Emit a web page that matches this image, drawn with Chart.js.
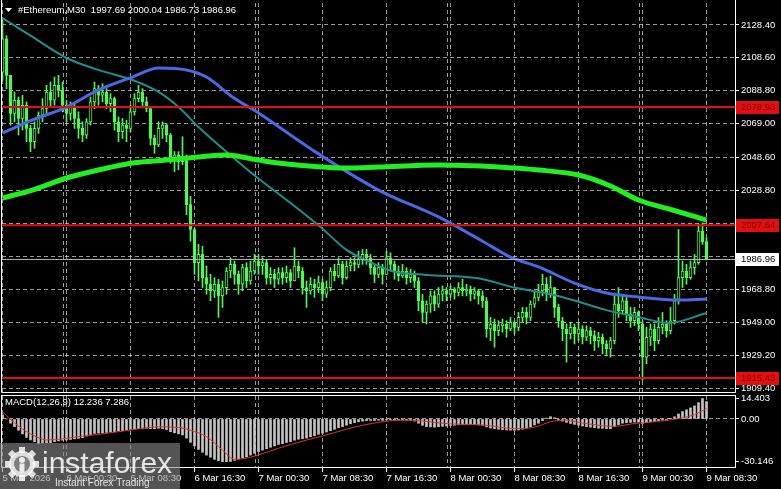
<!DOCTYPE html>
<html>
<head>
<meta charset="utf-8">
<script src="https://cdn.jsdelivr.net/npm/chart.js@4.4.1/dist/chart.umd.min.js"></script>
<style>
html, body { margin: 0; padding: 0; background: #000; overflow: hidden; }
#wrap { position: relative; width: 781px; height: 489px; background: #000; }
#main { position: absolute; left: 0; top: 0; }
#macd { position: absolute; left: 0; top: 392px; }
</style>
</head>
<body>
<div id="wrap">
  <canvas id="main" width="781" height="393"></canvas>
  <canvas id="macd" width="781" height="97"></canvas>
</div>
<script>
// ---- data ----
const symbol = '#Ethereum';
const timeframe = 'M30';
const firstOpen = 2100;

const closes = [
  2120, 2098, 2075, 2083, 2072, 2080, 2066, 2058, 2066, 2074,
  2078, 2088, 2083, 2092, 2089, 2080, 2075, 2079, 2072, 2066,
  2062, 2070, 2082, 2090, 2086, 2088, 2081, 2084, 2070, 2064,
  2068, 2066, 2076, 2084, 2088, 2082, 2078, 2060, 2056, 2066,
  2068, 2062, 2048, 2050, 2046, 2048, 2020, 2005, 1985, 1990,
  1976, 1972, 1968, 1972, 1965, 1970, 1980, 1984, 1978, 1972,
  1982, 1974, 1980, 1986, 1983, 1985, 1976, 1978, 1975, 1979,
  1976, 1979, 1974, 1983, 1980, 1970, 1968, 1972, 1970, 1973,
  1966, 1970, 1980, 1977, 1984, 1976, 1983, 1985, 1984, 1987,
  1990, 1988, 1982, 1978, 1982, 1978, 1988, 1984, 1980, 1977,
  1980, 1976, 1978, 1974, 1962, 1955, 1960, 1965, 1960, 1966,
  1968, 1966, 1969, 1967, 1970, 1968, 1969, 1966, 1968, 1965,
  1962, 1945, 1948, 1944, 1947, 1948, 1945, 1949, 1946, 1952,
  1955, 1952, 1960, 1964, 1968, 1972, 1966, 1970, 1958, 1950,
  1945, 1942, 1946, 1942, 1945, 1940, 1944, 1941, 1938, 1940,
  1936, 1933, 1938, 1960, 1956, 1962, 1954, 1950, 1955, 1948,
  1928, 1940, 1945, 1938, 1946, 1948, 1944, 1950, 1962, 1976,
  1980, 1976, 1982, 1985, 2004, 1997.69, 1986.96
];
const highs = [
  2131, 2122, 2093, 2088, 2085, 2086, 2082, 2068, 2070, 2076,
  2084, 2092, 2094, 2097, 2098, 2094, 2083, 2082, 2081, 2076,
  2070, 2072, 2085, 2094, 2092, 2093, 2090, 2087, 2085, 2073,
  2072, 2071, 2080, 2087, 2092, 2090, 2085, 2078, 2062, 2070,
  2070, 2069, 2063, 2052, 2052, 2061, 2050, 2025, 2006, 1996,
  1995, 1983, 1978, 1976, 1975, 1974, 1982, 1988, 1986, 1980,
  1984, 1985, 1986, 1990, 1990, 1988, 1987, 1982, 1981, 1982,
  1982, 1983, 1981, 1994, 1986, 1982, 1974, 1976, 1975, 1977,
  1975, 1974, 1982, 1984, 1988, 1986, 1986, 1988, 1988, 1992,
  1993, 1993, 1990, 1984, 1985, 1984, 1992, 1991, 1986, 1983,
  1984, 1982, 1981, 1980, 1976, 1966, 1962, 1968, 1968, 1970,
  1971, 1970, 1971, 1970, 1973, 1975, 1972, 1971, 1970, 1969,
  1968, 1964, 1952, 1951, 1950, 1951, 1950, 1952, 1950, 1955,
  1958, 1958, 1962, 1968, 1972, 1978, 1976, 1977, 1970, 1960,
  1952, 1948, 1949, 1948, 1949, 1947, 1947, 1946, 1944, 1943,
  1942, 1938, 1940, 1965, 1970, 1966, 1964, 1958, 1958, 1956,
  1950, 1946, 1948, 1948, 1952, 1955, 1950, 1958, 1966, 2005,
  1986, 1984, 1986, 1990, 2008, 2009, 2000.04
];
const lows = [
  2095, 2090, 2068, 2070, 2062, 2065, 2058, 2052, 2054, 2063,
  2070, 2075, 2079, 2080, 2085, 2076, 2070, 2071, 2066, 2060,
  2058, 2060, 2068, 2078, 2080, 2082, 2078, 2076, 2065, 2058,
  2060, 2058, 2064, 2074, 2082, 2079, 2076, 2056, 2051, 2055,
  2060, 2058, 2045, 2040, 2041, 2044, 2014, 1998, 1978, 1974,
  1970, 1966, 1962, 1964, 1952, 1958, 1966, 1976, 1972, 1966,
  1968, 1970, 1972, 1978, 1978, 1978, 1972, 1972, 1970, 1972,
  1972, 1973, 1970, 1974, 1976, 1966, 1958, 1966, 1964, 1967,
  1962, 1964, 1968, 1974, 1976, 1972, 1975, 1980, 1980, 1982,
  1984, 1984, 1978, 1973, 1976, 1972, 1978, 1980, 1975, 1974,
  1976, 1972, 1973, 1970, 1956, 1949, 1948, 1955, 1956, 1958,
  1962, 1962, 1964, 1963, 1965, 1965, 1965, 1962, 1963, 1960,
  1958, 1940, 1938, 1934, 1941, 1943, 1940, 1944, 1942, 1944,
  1949, 1948, 1950, 1958, 1962, 1965, 1962, 1964, 1952, 1946,
  1938, 1925, 1939, 1936, 1938, 1936, 1938, 1936, 1932, 1934,
  1930, 1929, 1928, 1936, 1952, 1954, 1950, 1946, 1947, 1944,
  1914, 1924, 1935, 1932, 1936, 1942, 1940, 1942, 1948, 1960,
  1970, 1972, 1975, 1978, 1984, 1996, 1986.73
];

// moving averages, read at points along each line: [bar index, price]
const maTeal = [[0,2132.6],[7.5,2121.2],[16,2108.5],[24,2101.3],[32.5,2095.2],[39,2088.0],[44,2078.9],[49,2066.9],[57.5,2048.8],[63.5,2036.7],[72,2021.0],[79.5,2006.5],[86,1992.7],[90,1987.5],[97.5,1979.8],[106,1977.6],[118.5,1975.7],[128.5,1969.7],[137,1966.0],[143,1962.2],[151,1956.4],[159,1952.2],[166.5,1948.6],[176,1954.6]];
const maBlue = [[0,2063.3],[7.5,2071.1],[16,2078.9],[24,2089.2],[32.5,2097.0],[39,2102.5],[46,2101.3],[51,2097.0],[57.5,2085.0],[64,2075.3],[77.5,2053.0],[94,2028.8],[109,2012.6],[119.5,1998.7],[127,1988.4],[134.5,1982.0],[143,1972.7],[151,1966.7],[159,1964.3],[169,1962.5],[176,1963.1]];
const maGreen = [[0,2024.0],[7.5,2028.8],[16,2036.1],[24,2040.9],[32.5,2045.1],[41,2046.9],[49,2048.8],[56,2050.0],[64,2046.9],[69,2045.1],[86,2042.1],[94,2042.7],[109,2043.9],[124,2042.7],[134,2040.9],[144,2037.9],[152,2031.3],[159,2022.8],[167.5,2016.8],[176,2010.7]];

const redLevels = [2078.93, 2007.64, 1915.43];
const lastPrice = 1986.96;
const priceTicks = [2128.40, 2108.60, 2088.80, 2069.00, 2048.60, 2028.80, 2008.90, 1989.00, 1968.80, 1949.00, 1929.20, 1909.40];
const hiddenPriceLabels = [2008.90, 1989.00];

const macdMain = [
  3, 0, -3, -5.4, -8, -10.5, -13, -14.8, -16, -17.2,
  -17, -16.8, -16.7, -16, -15.5, -15, -14.8, -14.5, -14, -13.7,
  -13.2, -12, -11, -10.2, -10, -9.8, -9.5, -9.2, -9, -8.5,
  -8.2, -7.8, -7.4, -7, -6.8, -6.6, -6.6, -6.8, -6.9, -6.6,
  -6.8, -7.5, -9, -9.8, -10.5, -11.3, -13.5, -16.5, -19, -21.5,
  -23.5, -25.5, -27, -28.5, -29.5, -30.1, -30.1, -30, -29.2, -28.3,
  -27.5, -26.8, -25.5, -24.2, -23, -22, -21, -20, -19, -18,
  -17.4, -16.6, -16, -15, -14.3, -14, -13.5, -12.5, -11.8, -10.8,
  -10, -9.2, -8.3, -7.3, -6.2, -5.4, -4.4, -3.4, -2.6, -2,
  -1.5, -1.2, -1.1, -1.1, -0.9, -1, -0.6, -0.5, -0.6, -0.7,
  -0.8, -1, -1.2, -1.5, -3, -4.5, -5.4, -5.6, -5.8, -5.5,
  -5.2, -5, -4.6, -4.4, -4.1, -4, -3.8, -3.9, -4, -4.2,
  -4.5, -5.6, -6.4, -6.8, -7.2, -7.5, -7.8, -7.9, -8, -7.8,
  -7.2, -6.5, -5.6, -4.2, -3, -1.2, 0.6, 1.6, 0.8, -0.7,
  -1.5, -2.4, -3.2, -3.8, -4.4, -5, -5.4, -5.8, -6.2, -6.5,
  -6.6, -6.8, -6.9, -5.5, -4, -3, -2.6, -2.4, -2.2, -2.3,
  -3.2, -2.6, -2, -1.8, -1.2, -0.8, -0.6, 0.2, 1.5, 3.5,
  5.2, 6.5, 7.8, 9.2, 11.5, 14.403, 12.236
];
const macdSignal = [[0,5],[4,-5],[8,-12],[11,-14.8],[15,-14],[19,-12.5],[25,-10.5],[29,-9],[34,-7],[39,-5.5],[44,-6],[47,-8],[51,-12.5],[55,-22],[58,-28.5],[62,-27],[66,-23.5],[72,-18],[80,-12],[90,-4.5],[100,-0.8],[105,-1.5],[112,-3.5],[120,-4.2],[128,-6.8],[133,-5.8],[137,-2],[140,-0.8],[145,-2.8],[150,-4.8],[153,-5.2],[158,-3.2],[162,-2.2],[166,-1],[170,0.8],[173,3],[176,7.286]];
const macdTicks = [14.403, 0, -30.146];

const timeTickIdx = [0, 16, 32, 48, 64, 80, 96, 112, 128, 144, 160, 176];
const timeLabels = ['5 Mar 2026', '6 Mar 00:30', '6 Mar 08:30', '6 Mar 16:30', '7 Mar 00:30', '7 Mar 08:30',
                    '7 Mar 16:30', '8 Mar 00:30', '8 Mar 08:30', '8 Mar 16:30', '9 Mar 00:30', '9 Mar 08:30'];
const daySeparatorIdx = [15, 63, 111, 159];

// ---- look ----
const FONT = '"Liberation Sans", Arial, sans-serif';
const candleGreen = '#5cf05c';
const gridColor = 'rgba(205,205,205,0.75)';
const X_MIN = -0.125, X_MAX = 183.125;

Chart.defaults.font.family = FONT;
Chart.defaults.font.size = 9.5;
Chart.defaults.color = '#fff';

const opens = closes.map((c, i) => i === 0 ? firstOpen : closes[i - 1]);
const wicks = closes.map((c, i) => ({ x: i, y: [Math.min(lows[i], opens[i], c), Math.max(highs[i], opens[i], c)] }));
const bodies = closes.map((c, i) => {
  let o = opens[i];
  if (Math.abs(o - c) < 0.4) return { x: i, y: [o - 0.25, c + 0.25] };
  return { x: i, y: [o, c] };
});
const bodyFill = closes.map((c, i) => c >= opens[i] ? '#000' : candleGreen);

const pts = arr => arr.map(p => ({ x: p[0], y: p[1] }));
const hline = v => [{ x: X_MIN, y: v }, { x: X_MAX, y: v }];

function fixAxis(w) {
  return function (s) {
    if (w !== undefined) s.width = w;
    s.paddingTop = 0; s.paddingBottom = 0; s.paddingLeft = 0; s.paddingRight = 0;
  };
}

function drawSeparators(chart) {
  const { ctx, chartArea, scales } = chart;
  ctx.save();
  ctx.strokeStyle = gridColor;
  ctx.lineWidth = 1;
  ctx.setLineDash([4, 3]);
  daySeparatorIdx.forEach(i => {
    const x = Math.round(scales.x.getPixelForValue(i)) + 0.5;
    ctx.beginPath();
    ctx.moveTo(x, chartArea.top);
    ctx.lineTo(x, chartArea.bottom);
    ctx.stroke();
  });
  ctx.restore();
}

const mainOverlay = {
  id: 'mainOverlay',
  beforeDatasetsDraw(chart) { drawSeparators(chart); },
  afterDraw(chart) {
    const { ctx, scales } = chart;
    const y = scales.y;
    ctx.save();
    // frame
    ctx.strokeStyle = '#fff';
    ctx.lineWidth = 1;
    ctx.beginPath();
    ctx.moveTo(1.5, 0); ctx.lineTo(1.5, 392.5);
    ctx.lineTo(735.5, 392.5); ctx.lineTo(735.5, 0);
    ctx.stroke();
    // level boxes on the price axis
    ctx.font = '9.5px ' + FONT;
    ctx.textBaseline = 'middle';
    redLevels.forEach(v => {
      const py = Math.round(y.getPixelForValue(v));
      ctx.fillStyle = '#e01010';
      ctx.fillRect(736, py - 6, 43, 13);
      ctx.fillStyle = '#8a0000';
      ctx.fillText(v.toFixed(2), 741, py + 0.5);
    });
    const lp = Math.round(y.getPixelForValue(lastPrice));
    ctx.fillStyle = '#fff';
    ctx.fillRect(736, lp - 6, 43, 13);
    ctx.fillStyle = '#000';
    ctx.fillText(lastPrice.toFixed(2), 741, lp + 0.5);
    // title
    ctx.fillStyle = '#fff';
    ctx.beginPath();
    ctx.moveTo(5, 8); ctx.lineTo(12, 8); ctx.lineTo(8.5, 12); ctx.closePath();
    ctx.fill();
    const n = closes.length - 1;
    const title = symbol + ',' + timeframe + '  ' + opens[n].toFixed(2) + ' ' + highs[n].toFixed(2) + ' ' +
                  lows[n].toFixed(2) + ' ' + closes[n].toFixed(2);
    ctx.fillText(title, 18, 10.5);
    ctx.restore();
  }
};

new Chart(document.getElementById('main'), {
  type: 'bar',
  data: {
    datasets: [
      { type: 'line', data: hline(redLevels[0]), borderColor: '#e01010', borderWidth: 2, pointRadius: 0, order: 1 },
      { type: 'line', data: hline(redLevels[1]), borderColor: '#e01010', borderWidth: 2, pointRadius: 0, order: 1 },
      { type: 'line', data: hline(redLevels[2]), borderColor: '#e01010', borderWidth: 2, pointRadius: 0, order: 1 },
      { type: 'line', data: hline(lastPrice), borderColor: '#b8b8b8', borderWidth: 1, pointRadius: 0, order: 2 },
      { type: 'line', data: pts(maGreen), borderColor: '#22ee22', borderWidth: 5, pointRadius: 0, cubicInterpolationMode: 'monotone', order: 3 },
      { type: 'line', data: pts(maBlue), borderColor: '#4a68e0', borderWidth: 3, pointRadius: 0, cubicInterpolationMode: 'monotone', order: 3 },
      { type: 'line', data: pts(maTeal), borderColor: '#238d8d', borderWidth: 2, pointRadius: 0, cubicInterpolationMode: 'monotone', order: 3 },
      { data: bodies, backgroundColor: bodyFill, borderColor: candleGreen, borderWidth: 1, borderSkipped: false,
        barThickness: 3, grouped: false, order: 5 },
      { data: wicks, backgroundColor: candleGreen, borderWidth: 0, barThickness: 1, grouped: false, order: 6 }
    ]
  },
  options: {
    responsive: false,
    animation: false,
    layout: { padding: { top: 3, bottom: 1, left: 2, right: 0 } },
    plugins: { legend: { display: false }, tooltip: { enabled: false } },
    scales: {
      x: {
        type: 'linear', min: X_MIN, max: X_MAX, offset: false,
        afterBuildTicks: s => { s.ticks = timeTickIdx.map(v => ({ value: v })); },
        afterFit: s => { s.height = 0; s.paddingLeft = 0; s.paddingRight = 0; },
        ticks: { display: false },
        grid: { color: gridColor, drawTicks: false, offset: false },
        border: { display: false, dash: [4, 3] }
      },
      y: {
        position: 'right', min: 1906.99, max: 2141.67,
        afterBuildTicks: s => { s.ticks = priceTicks.map(v => ({ value: v })); },
        afterFit: fixAxis(46),
        ticks: {
          autoSkip: false, padding: 2, color: '#fff',
          callback: v => hiddenPriceLabels.includes(v) ? '' : v.toFixed(2)
        },
        grid: { color: gridColor, tickLength: 4, tickColor: '#fff' },
        border: { display: false, dash: [4, 3] }
      }
    }
  },
  plugins: [mainOverlay]
});

const macdOverlay = {
  id: 'macdOverlay',
  beforeDatasetsDraw(chart) { drawSeparators(chart); },
  afterDraw(chart) {
    const { ctx } = chart;
    ctx.save();
    ctx.strokeStyle = '#fff';
    ctx.lineWidth = 1;
    ctx.strokeRect(1.5, 3.5, 734, 72);
    ctx.font = '9.5px ' + FONT;
    ctx.textBaseline = 'middle';
    ctx.fillStyle = '#fff';
    const n = macdMain.length - 1;
    ctx.fillText('MACD(12,26,9) ' + macdMain[n].toFixed(3) + ' ' + macdSignal[macdSignal.length - 1][1].toFixed(3), 5, 10);
    // watermark logo
    ctx.fillStyle = 'rgba(140,140,140,0.6)';
    ctx.fillRect(0, 51, 180, 46);
    ctx.fillStyle = 'rgba(255,255,255,0.8)';
    ctx.beginPath();
    const cx = 22, cy = 72;
    for (let k = 0; k < 8; k++) {
      const a = k * Math.PI / 4;
      ctx.save();
      ctx.translate(cx, cy); ctx.rotate(a);
      ctx.fillRect(-3, -17, 6, 6);
      ctx.restore();
    }
    ctx.arc(cx, cy, 13, 0, Math.PI * 2);
    ctx.fill();
    ctx.fillStyle = 'rgba(120,120,120,0.95)';
    ctx.beginPath(); ctx.arc(cx, cy, 8, 0, Math.PI * 2); ctx.fill();
    ctx.fillStyle = 'rgba(255,255,255,0.85)';
    ctx.beginPath(); ctx.arc(cx, cy - 4, 3, 0, Math.PI * 2); ctx.fill();
    ctx.fillRect(cx - 2.5, cy - 0.5, 5, 9);
    ctx.font = '30px ' + FONT;
    ctx.textBaseline = 'alphabetic';
    ctx.fillText('instaforex', 42, 81);
    ctx.font = '10px ' + FONT;
    ctx.fillText('Instant Forex Trading', 55, 94);
    ctx.restore();
  }
};

new Chart(document.getElementById('macd'), {
  type: 'bar',
  data: {
    datasets: [
      { type: 'line', data: pts(macdSignal), borderColor: '#e23030', borderWidth: 1, pointRadius: 0, cubicInterpolationMode: 'monotone', order: 1 },
      { data: macdMain.map((v, i) => ({ x: i, y: v })), backgroundColor: '#c4c4c4', barThickness: 2, grouped: false, order: 2 }
    ]
  },
  options: {
    responsive: false,
    animation: false,
    layout: { padding: { top: 4, bottom: 0, left: 2, right: 0 } },
    plugins: { legend: { display: false }, tooltip: { enabled: false } },
    scales: {
      x: {
        type: 'linear', min: X_MIN, max: X_MAX, offset: false,
        afterBuildTicks: s => { s.ticks = timeTickIdx.map(v => ({ value: v })); },
        afterFit: s => { s.height = 21; s.paddingLeft = 0; s.paddingRight = 0; },
        ticks: {
          autoSkip: false, maxRotation: 0, align: 'start', padding: 1, color: '#fff',
          callback: (v, i) => timeLabels[i]
        },
        grid: { color: gridColor, tickLength: 4, tickColor: '#fff', offset: false },
        border: { display: false, dash: [4, 3] }
      },
      y: {
        position: 'right', min: -34.6, max: 16.2,
        afterBuildTicks: s => { s.ticks = macdTicks.map(v => ({ value: v })); },
        afterFit: fixAxis(46),
        ticks: { autoSkip: false, padding: 2, color: '#fff', callback: v => v === 0 ? '0.00' : v.toFixed(3) },
        grid: { color: c => (c.tick && c.tick.value === 0) ? gridColor : 'rgba(0,0,0,0)', tickLength: 4, tickColor: '#fff' },
        border: { display: false, dash: [4, 3] }
      }
    }
  },
  plugins: [macdOverlay]
});
</script>
</body>
</html>
